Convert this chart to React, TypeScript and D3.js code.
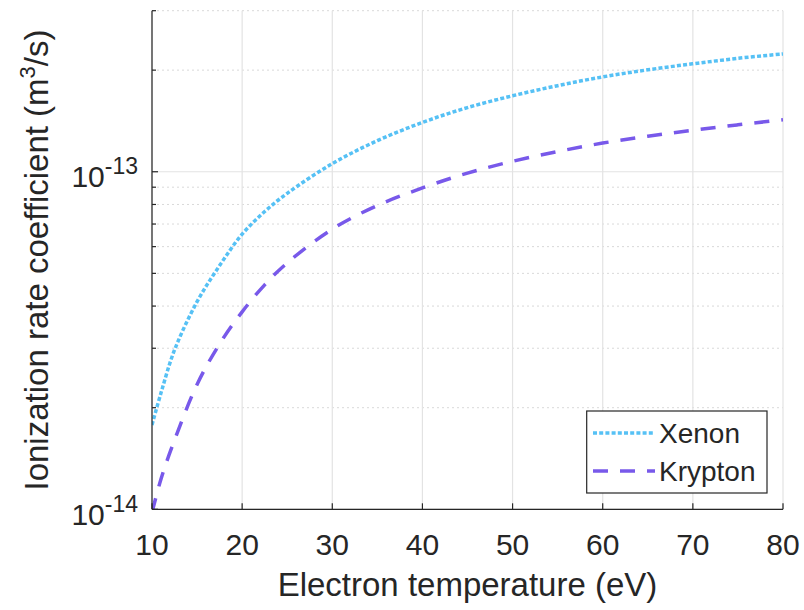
import React from "react";
import * as d3 from "d3";

const temps = [10, 11, 12.5, 15, 17.5, 20, 22.5, 25, 30, 35, 40, 45, 50, 55, 60, 65, 70, 75, 80];
const xenon = [1.778e-14, 2.213e-14, 2.965e-14, 4.121e-14, 5.272e-14, 6.531e-14, 7.621e-14, 8.63e-14, 1.057e-13, 1.236e-13, 1.40e-13, 1.549e-13, 1.679e-13, 1.799e-13, 1.91e-13, 2.004e-13, 2.089e-13, 2.168e-13, 2.234e-13];
const krypton = [0.977e-14, 1.23e-14, 1.603e-14, 2.344e-14, 3.09e-14, 3.846e-14, 4.624e-14, 5.37e-14, 6.761e-14, 7.943e-14, 8.954e-14, 9.908e-14, 1.074e-13, 1.148e-13, 1.216e-13, 1.274e-13, 1.327e-13, 1.377e-13, 1.426e-13];
const xTicks = [10, 20, 30, 40, 50, 60, 70, 80];
const yMajor = [1e-14, 1e-13];
const yMinor = [2e-14, 3e-14, 4e-14, 5e-14, 6e-14, 7e-14, 8e-14, 9e-14, 2e-13, 3e-13];
const seriesNames = ["Xenon", "Krypton"];

const W = 804, H = 610;
const L = 152, R = 783, T = 10.7, B = 509.3;
const FONT = "'Liberation Sans', Arial, Helvetica, sans-serif";
const AX = "#262626";

export default function App() {
  const x = d3.scaleLinear().domain([10, 80]).range([L, R]);
  const y = d3.scaleLog().domain([1e-14, 3e-13]).range([B, T]);
  const line = d3.line<[number, number]>()
    .x(d => x(d[0]))
    .y(d => y(d[1]))
    .curve(d3.curveCatmullRom.alpha(0.5));
  const xe = line(temps.map((t, i) => [t, xenon[i]] as [number, number])) || "";
  const kr = line(temps.map((t, i) => [t, krypton[i]] as [number, number])) || "";
  const styles = [
    { color: "#56C1F5", dash: "4 2.2", width: 3.5 },
    { color: "#7859EA", dash: "15 12", width: 3.5 },
  ];
  return (
    <svg width={W} height={H} style={{ position: "absolute", left: 0, top: 0, background: "#fff" }} fontFamily={FONT}>
      <defs>
        <clipPath id="plot"><rect x={L} y={T - 2} width={R - L} height={B - T + 2} /></clipPath>
      </defs>
      <rect x={0} y={0} width={W} height={H} fill="#fff" />
      {yMinor.map((v, i) => (
        <line key={"ym" + i} x1={L} x2={R} y1={y(v)} y2={y(v)} stroke="#d9d9d9" strokeWidth={1} strokeDasharray="2 3" />
      ))}
      {yMajor.map((v, i) => (
        <line key={"yg" + i} x1={L} x2={R} y1={y(v)} y2={y(v)} stroke="#e3e3e3" strokeWidth={1.2} />
      ))}
      {xTicks.map((v, i) => (
        <line key={"xg" + i} x1={x(v)} x2={x(v)} y1={T} y2={B} stroke="#e3e3e3" strokeWidth={1.2} />
      ))}
      <g clipPath="url(#plot)">
        <path d={xe} fill="none" stroke={styles[0].color} strokeWidth={styles[0].width} strokeDasharray={styles[0].dash} />
        <path d={kr} fill="none" stroke={styles[1].color} strokeWidth={styles[1].width} strokeDasharray={styles[1].dash} />
      </g>
      <line x1={L} x2={L} y1={T} y2={B} stroke={AX} strokeWidth={1.2} />
      <line x1={L} x2={R} y1={B} y2={B} stroke={AX} strokeWidth={1.2} />
      {xTicks.map((v, i) => (
        <g key={"xt" + i}>
          <line x1={x(v)} x2={x(v)} y1={B} y2={B - 6} stroke={AX} strokeWidth={1.2} />
          <text x={x(v)} y={555} textAnchor="middle" fontSize={30} fill={AX}>{v}</text>
        </g>
      ))}
      {yMajor.map((v, i) => (
        <g key={"yt" + i}>
          <line x1={L} x2={L + 6} y1={y(v)} y2={y(v)} stroke={AX} strokeWidth={1.2} />
          <text x={138} y={y(v) + 15.5} textAnchor="end" fill={AX}>
            <tspan fontSize={30}>10</tspan>
            <tspan fontSize={23} dy={-13}>{"-" + Math.round(-Math.log10(v))}</tspan>
          </text>
        </g>
      ))}
      {yMinor.map((v, i) => (
        <line key={"ymt" + i} x1={L} x2={L + 4} y1={y(v)} y2={y(v)} stroke={AX} strokeWidth={1.2} />
      ))}
      <text x={(L + R) / 2} y={596} textAnchor="middle" fontSize={33} fill={AX}>Electron temperature (eV)</text>
      <text transform={`translate(48, ${(T + B) / 2}) rotate(-90)`} textAnchor="middle" fontSize={33} fill={AX}>
        Ionization rate coefficient (m<tspan fontSize={22} dy={-13}>3</tspan><tspan dy={13}>/s)</tspan>
      </text>
      <rect x={586.7} y={411} width={180.3} height={82} fill="#fff" stroke={AX} strokeWidth={1.2} />
      {seriesNames.map((n, i) => (
        <g key={"lg" + i}>
          <line x1={593} x2={655} y1={433 + i * 38} y2={433 + i * 38} stroke={styles[i].color} strokeWidth={styles[i].width} strokeDasharray={styles[i].dash} />
          <text x={659} y={443 + i * 38} fontSize={28} fill={AX}>{n}</text>
        </g>
      ))}
    </svg>
  );
}
